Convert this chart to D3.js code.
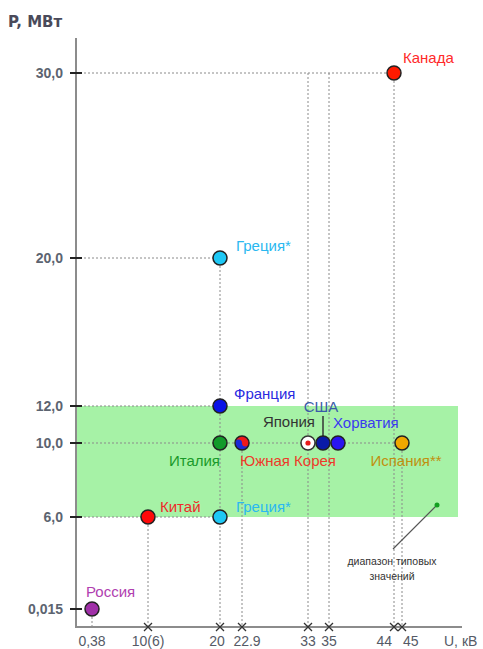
<!DOCTYPE html>
<html><head><meta charset="utf-8">
<script src="https://cdn.jsdelivr.net/npm/d3@7/dist/d3.min.js"></script>
<style>
html,body{margin:0;padding:0;background:#fff;}
svg{display:block;font-family:"Liberation Sans",Arial,sans-serif;}
</style></head>
<body><svg id="c" width="483" height="649"></svg>
<script>
// ---- data ----
const xTickValues = [0.38, 10, 20, 22.9, 33, 35, 44, 45];
const xTickLabels = ["0,38", "10(6)", "20", "22.9", "33", "35", "44", "45"];
const yTickValues = [0.015, 6, 10, 12, 20, 30];
const yTickLabels = ["0,015", "6,0", "10,0", "12,0", "20,0", "30,0"];
const countries = ["Канада", "Греция*", "Франция", "Италия", "Южная Корея", "Япония", "США", "Хорватия", "Испания**", "Китай", "Греция*", "Россия"];
const voltage =   [44, 20, 20, 20, 22.9, 33, 35, 35, 45, 10, 20, 0.38];
const power =     [30, 20, 12, 10, 10, 10, 10, 10, 10, 6, 6, 0.015];
const typicalRange = [6, 12];

// ---- styles / layout ----
const ptColor = ["#ff1a00", "#1ec8f5", "#0a14e6", "#129a2a", "korea", "japan", "#0a1aa8", "#2a14f0", "#f0a800", "#ff0a0a", "#1ec8f5", "#a030a8"];
const labColor = ["#ff2a2a", "#2ab8f0", "#2a2ae0", "#1a9a2a", "#ee3a2a", "#333333", "#3a5aa8", "#3a3af0", "#c09010", "#ee2a2a", "#2ab8f0", "#b040b0"];
const labPos = [ // dx, dy, anchor
  [9, -10, "start"], [16, -7, "start"], [14, -7, "start"], [0, 23, "end"],
  [-2, 23, "start"], [7, -16, "end"], [-2, -31, "middle"], [-5, -15, "start"],
  [4, 23, "middle"], [12, -5, "start"], [16, -5, "start"], [-6, -12, "start"]];
const dodge = [0,0,0,0,0,0,-6,9,0,0,0,0];

const svg = d3.select("#c");
const x = d3.scaleLinear().domain(xTickValues).range([92, 148, 220, 242, 308, 329, 394, 402]);
const y = d3.scaleLinear().domain([0.015, 6, 30]).range([609, 517, 73]);
const axisX0 = 76, axisY0 = 627, axisXEnd = 462, axisYTop = 38;

// green range band
svg.append("rect").attr("x", axisX0 + 1).attr("y", y(typicalRange[1]))
  .attr("width", 458 - axisX0 - 1).attr("height", y(typicalRange[0]) - y(typicalRange[1]))
  .attr("fill", "#a6f2a6");

// gridlines (dotted)
const grid = svg.append("g").attr("stroke", "#8a8a8a").attr("stroke-width", 1).attr("stroke-dasharray", "2,2").attr("fill", "none");
const hLevels = Array.from(d3.group(power.map((p, i) => ({p, u: voltage[i]})).filter(d => d.p > 0.1), d => d.p));
hLevels.forEach(([p, arr]) => {
  const maxU = d3.max(arr, d => d.u);
  grid.append("line").attr("x1", axisX0).attr("x2", x(maxU)).attr("y1", y(p)).attr("y2", y(p));
});
xTickValues.forEach(u => {
  const ps = power.filter((p, i) => voltage[i] === u);
  let top = d3.max(ps);
  if (u === 33 || u === 35) top = 30;
  grid.append("line").attr("x1", x(u)).attr("x2", x(u)).attr("y1", y(top)).attr("y2", axisY0);
});

// axes
svg.append("line").attr("x1", axisX0).attr("x2", axisX0).attr("y1", axisYTop).attr("y2", axisY0 + 1)
  .attr("stroke", "#8c8c8c").attr("stroke-width", 2);
svg.append("line").attr("x1", axisX0).attr("x2", axisXEnd).attr("y1", axisY0).attr("y2", axisY0)
  .attr("stroke", "#8c8c8c").attr("stroke-width", 2);

// y ticks
yTickValues.forEach((v, i) => {
  svg.append("line").attr("x1", axisX0 - 6).attr("x2", axisX0 + 6).attr("y1", y(v)).attr("y2", y(v))
    .attr("stroke", "#222").attr("stroke-width", 2);
  svg.append("text").attr("x", 63).attr("y", y(v) + 5).attr("text-anchor", "end")
    .attr("font-size", 14).attr("font-weight", "bold").attr("fill", "#5c6470").text(yTickLabels[i]);
});
// x ticks
const xLabAnchor = {44: ["end", -2], 45: ["start", 1], 20: ["middle", -3], 22.9: ["middle", 5]};
xTickValues.forEach((v, i) => {
  const cx = x(v);
  if (v > 1) {
    svg.append("path").attr("d", `M${cx-4},${axisY0-4}L${cx+4},${axisY0+4}M${cx-4},${axisY0+4}L${cx+4},${axisY0-4}`)
      .attr("stroke", "#333").attr("stroke-width", 1.3);
  }
  const a = xLabAnchor[v] || ["middle", 0];
  svg.append("text").attr("x", cx + a[1]).attr("y", 646).attr("text-anchor", a[0])
    .attr("font-size", 14).attr("fill", "#555a66").text(xTickLabels[i]);
});

// axis titles
svg.append("text").attr("x", 8).attr("y", 27).attr("font-family", "DejaVu Sans").attr("font-size", 15).attr("font-weight", "bold").attr("fill", "#4a4a5a").text("P, МВт");
svg.append("text").attr("x", 444).attr("y", 646).attr("font-size", 14).attr("fill", "#555a66").text("U, кВ");

// USA leader line
const usa = countries.indexOf("США");
svg.append("line").attr("x1", x(voltage[usa]) + dodge[usa]).attr("x2", x(voltage[usa]) + dodge[usa])
  .attr("y1", y(power[usa]) - 6).attr("y2", y(power[usa]) - 27).attr("stroke", "#333").attr("stroke-width", 1.5);

// points
const r = 7;
countries.forEach((c, i) => {
  const cx = x(voltage[i]) + dodge[i], cy = y(power[i]);
  const g = svg.append("g").attr("transform", `translate(${cx},${cy})`);
  if (ptColor[i] === "korea") {
    g.append("circle").attr("r", r).attr("fill", "#1a2ad8");
    g.append("path").attr("d", `M${-r},0A${r},${r} 0 0 1 ${r},0A${r/2},${r/2} 0 0 1 0,0A${r/2},${r/2} 0 0 0 ${-r},0Z`).attr("fill", "#ee1a1a");
    g.append("circle").attr("r", r).attr("fill", "none").attr("stroke", "#222").attr("stroke-width", 1.5);
  } else if (ptColor[i] === "japan") {
    g.append("circle").attr("r", r).attr("fill", "#fff").attr("stroke", "#333").attr("stroke-width", 1.5);
    g.append("circle").attr("r", 2.6).attr("fill", "#e81a1a");
  } else {
    g.append("circle").attr("r", r).attr("fill", ptColor[i]).attr("stroke", "#222").attr("stroke-width", 1.5);
  }
  const lp = labPos[i];
  svg.append("text").attr("x", cx + lp[0]).attr("y", cy + lp[1]).attr("text-anchor", lp[2])
    .attr("font-size", 15).attr("fill", labColor[i]).text(c);
});

// annotation
svg.append("line").attr("x1", 393).attr("y1", 549).attr("x2", 437).attr("y2", 505).attr("stroke", "#555").attr("stroke-width", 1.2);
svg.append("circle").attr("cx", 437).attr("cy", 505).attr("r", 2.5).attr("fill", "#12a020");
svg.append("text").attr("x", 392).attr("y", 565).attr("text-anchor", "middle").attr("font-size", 10.5).attr("fill", "#333").text("диапазон типовых");
svg.append("text").attr("x", 392).attr("y", 580).attr("text-anchor", "middle").attr("font-size", 10.5).attr("fill", "#333").text("значений");
</script></body></html>
